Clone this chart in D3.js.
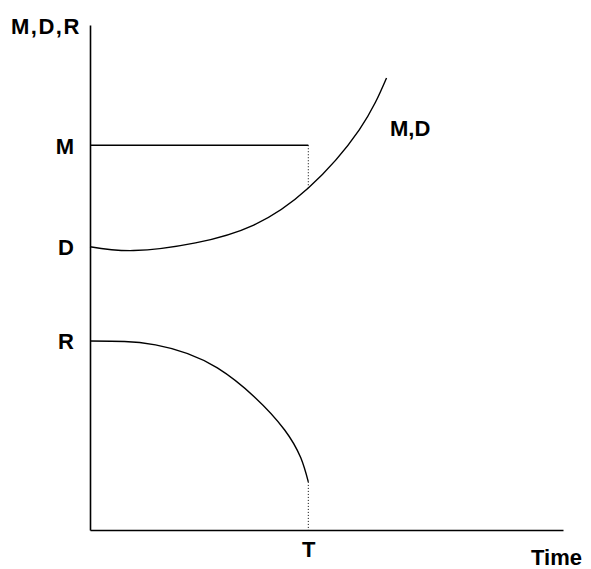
<!DOCTYPE html>
<html>
<head>
<meta charset="utf-8">
<script src="https://cdn.jsdelivr.net/npm/d3@7"></script>
<style>
  body { margin: 0; background: #fff; }
  text { font-family: "Liberation Sans", Arial, sans-serif; font-weight: bold; fill: #000; }
</style>
</head>
<body>
<div id="chart"></div>
<script>
var width = 591;
var height = 569;

// levels at time 0 and the horizon T
var T = 6;
var levelM = 8;
var tickLabels = ['M', 'D', 'R'];

// M,D curve
var dTime  = [0, 1.2, 2.9, 4.5, 6, 7.4, 8.15];
var dValue = [5.89, 5.81, 5.97, 6.34, 7.11, 8.32, 9.4];

// R curve
var rTime  = [0, 0.95, 1.8, 3.5, 5.35, 6];
var rValue = [3.93, 3.92, 3.85, 3.37, 2.08, 1.0];

var svg = d3.select('#chart').append('svg')
      .attr('width', width)
      .attr('height', height)

var xScale = d3.scaleLinear()
      .domain([0, 13])
      .range([90, 563])

var yScale = d3.scaleLinear()
      .domain([0, 10.5])
      .range([530, 25])

var dData = dTime.map((t, i) => ({t: t, v: dValue[i]}));
var rData = rTime.map((t, i) => ({t: t, v: rValue[i]}));

// axes: ticks hidden, labels only
var yAxis = d3.axisLeft(yScale)
      .tickValues([levelM, dValue[0], rValue[0]])
      .tickFormat((d, i) => tickLabels[i])
      .tickSize(0)
      .tickPadding(16)

var xAxis = d3.axisBottom(xScale)
      .tickValues([T])
      .tickFormat(() => 'T')
      .tickSize(0)
      .tickPadding(11)

var gy = svg.append('g')
      .attr('transform', 'translate(' + xScale(0) + ',0)')
      .call(yAxis)
var gx = svg.append('g')
      .attr('transform', 'translate(0,' + yScale(0) + ')')
      .call(xAxis)

svg.selectAll('.domain').attr('stroke', '#000').attr('stroke-width', 1.6)
svg.selectAll('.tick text')
      .style('font-family', '"Liberation Sans", Arial, sans-serif')
      .style('font-weight', 'bold')
      .style('font-size', '22px')
      .attr('fill', '#000')
gy.selectAll('.tick text').attr('dy', '0.36em')

var line = d3.line()
      .x(d => xScale(d.t))
      .y(d => yScale(d.v))
      .curve(d3.curveNatural)

// M flat line
svg.append('path')
      .datum([{t: 0, v: levelM}, {t: T, v: levelM}])
      .attr('d', d3.line().x(d => xScale(d.t)).y(d => yScale(d.v)))
      .attr('fill', 'none')
      .attr('stroke', '#000')
      .attr('stroke-width', 1.6)

svg.append('path')
      .datum(dData)
      .attr('d', line)
      .attr('fill', 'none')
      .attr('stroke', '#000')
      .attr('stroke-width', 1.4)

svg.append('path')
      .datum(rData)
      .attr('d', line)
      .attr('fill', 'none')
      .attr('stroke', '#000')
      .attr('stroke-width', 1.4)

// dotted drops at T
var drops = [[levelM, dValue[4]], [rValue[rValue.length - 1], 0]];
svg.selectAll('.drop')
      .data(drops)
      .enter()
      .append('line')
      .attr('class', 'drop')
      .attr('x1', xScale(T))
      .attr('x2', xScale(T))
      .attr('y1', d => yScale(d[0]))
      .attr('y2', d => yScale(d[1]))
      .attr('stroke', '#000')
      .attr('stroke-width', 1)
      .attr('stroke-dasharray', '1,2')

// titles
svg.append('text')
      .attr('x', 11)
      .attr('y', 34)
      .style('font-size', '22px')
      .style('letter-spacing', '1.5px')
      .text('M,D,R')

svg.append('text')
      .attr('x', 390)
      .attr('y', 136)
      .style('font-size', '22px')
      .text('M,D')

svg.append('text')
      .attr('x', 531)
      .attr('y', 565)
      .style('font-size', '22px')
      .text('Time')
</script>
</body>
</html>
